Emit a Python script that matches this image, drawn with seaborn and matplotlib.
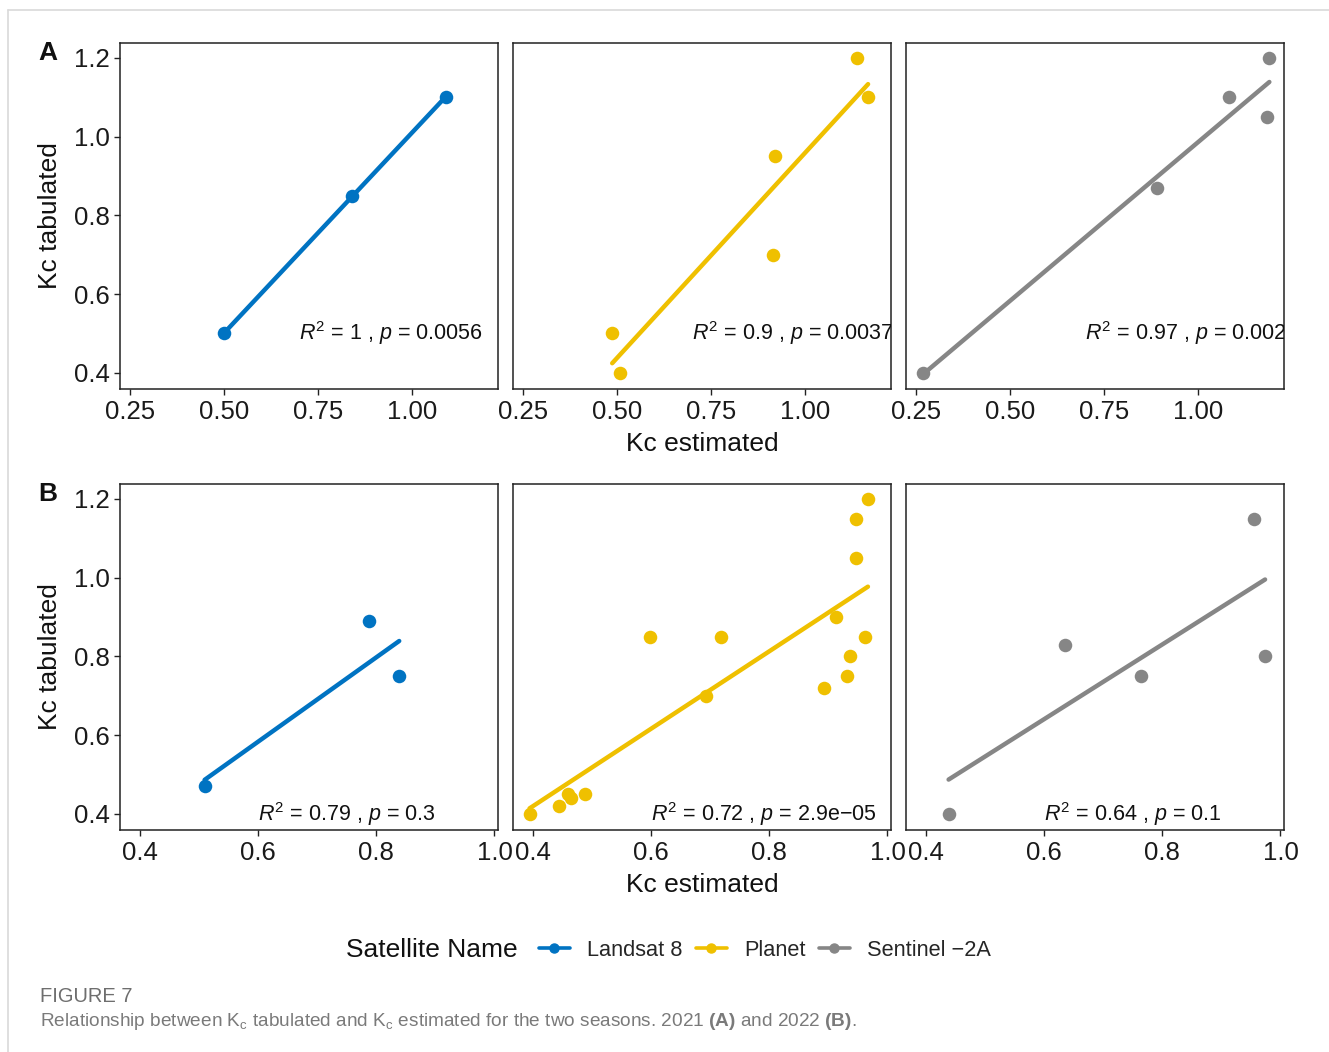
import numpy as np
import pandas as pd
import seaborn as sns
import matplotlib
matplotlib.use("Agg")
import matplotlib.pyplot as plt
from matplotlib.lines import Line2D

# ---------------- data ----------------
satellites = ["Landsat 8", "Planet", "Sentinel \u22122A"]
colors = ["#0073C2", "#EFC000", "#868686"]

# 2021 (A)
landsat_A_est = [0.50, 0.84, 1.09]
landsat_A_tab = [0.50, 0.85, 1.10]
planet_A_est = [0.487, 0.507, 0.914, 0.920, 1.138, 1.168]
planet_A_tab = [0.50, 0.40, 0.70, 0.95, 1.20, 1.10]
sentinel_A_est = [0.268, 0.890, 1.083, 1.185, 1.190]
sentinel_A_tab = [0.40, 0.87, 1.10, 1.05, 1.20]

# 2022 (B)
landsat_B_est = [0.51, 0.788, 0.839]
landsat_B_tab = [0.47, 0.89, 0.75]
planet_B_est = [0.395, 0.444, 0.460, 0.465, 0.489, 0.599, 0.693, 0.718,
                0.892, 0.913, 0.932, 0.937, 0.947, 0.947, 0.962, 0.967]
planet_B_tab = [0.40, 0.42, 0.45, 0.44, 0.45, 0.85, 0.70, 0.85,
                0.72, 0.90, 0.75, 0.80, 1.05, 1.15, 0.85, 1.20]
sentinel_B_est = [0.439, 0.635, 0.765, 0.955, 0.974]
sentinel_B_tab = [0.40, 0.83, 0.75, 1.15, 0.80]

labels_A = ["1", "0.9", "0.97"]
pvals_A = ["0.0056", "0.0037", "0.0024"]
labels_B = ["0.79", "0.72", "0.64"]
pvals_B = ["0.3", "2.9e\u221205", "0.1"]

x_ticks_A = [0.25, 0.50, 0.75, 1.00]
x_ticklabels_A = ["0.25", "0.50", "0.75", "1.00"]
x_ticks_B = [0.4, 0.6, 0.8, 1.0]
x_ticklabels_B = ["0.4", "0.6", "0.8", "1.0"]
y_ticks = [0.4, 0.6, 0.8, 1.0, 1.2]
y_ticklabels = ["0.4", "0.6", "0.8", "1.0", "1.2"]

rows = [
    dict(est=[landsat_A_est, planet_A_est, sentinel_A_est],
         tab=[landsat_A_tab, planet_A_tab, sentinel_A_tab],
         r2=labels_A, p=pvals_A, xt=x_ticks_A, xtl=x_ticklabels_A,
         xlim=(0.223, 1.229), lab_xy=(0.70, 0.50), letter="A"),
    dict(est=[landsat_B_est, planet_B_est, sentinel_B_est],
         tab=[landsat_B_tab, planet_B_tab, sentinel_B_tab],
         r2=labels_B, p=pvals_B, xt=x_ticks_B, xtl=x_ticklabels_B,
         xlim=(0.367, 1.006), lab_xy=(0.60, 0.40), letter="B"),
]

# ---------------- style ----------------
sns.set_theme(style="white")
plt.rcParams["font.family"] = ["Liberation Sans", "DejaVu Sans"]
plt.rcParams["mathtext.fontset"] = "custom"
plt.rcParams["mathtext.rm"] = "Liberation Sans"
plt.rcParams["mathtext.it"] = "Liberation Sans:italic"
plt.rcParams["mathtext.bf"] = "Liberation Sans:bold"

W, H = 1329, 1052
fig = plt.figure(figsize=(W / 100, H / 100), dpi=100)
fig.patch.set_facecolor("white")

col_left = [120, 513, 906]
col_w = 378
row_top = [43, 484]
row_h = 346

for r, row in enumerate(rows):
    for c in range(3):
        ax = fig.add_axes([col_left[c] / W, 1 - (row_top[r] + row_h) / H,
                           col_w / W, row_h / H])
        df = pd.DataFrame({"est": row["est"][c], "tab": row["tab"][c]})
        sns.regplot(data=df, x="est", y="tab", ax=ax, ci=None, truncate=True,
                    color=colors[c],
                    scatter_kws=dict(s=95, alpha=1, linewidths=0, zorder=3),
                    line_kws=dict(lw=3.2, zorder=2))
        ax.set_xlim(*row["xlim"])
        ax.set_ylim(0.359, 1.238)
        ax.set_xticks(row["xt"])
        ax.set_xticklabels(row["xtl"])
        ax.set_yticks(y_ticks)
        ax.set_xlabel("")
        ax.set_ylabel("")
        for sp in ax.spines.values():
            sp.set_color("#222222")
            sp.set_linewidth(1.1)
        ax.tick_params(axis="x", direction="out", length=4.5, width=1.0,
                       color="#222222", pad=3.5, labelsize=18.5, labelcolor="#1a1a1a",
                       bottom=True)
        if c == 0:
            ax.set_yticklabels(y_ticklabels)
            ax.tick_params(axis="y", direction="out", length=4.5, width=1.0,
                           color="#222222", pad=3, labelsize=18.5,
                           labelcolor="#1a1a1a", left=True)
        else:
            ax.set_yticklabels([])
            ax.tick_params(axis="y", left=False, labelleft=False)
        lx, ly = row["lab_xy"]
        ax.text(lx, ly, r"$R^2$ = " + row["r2"][c] + r" , $p$ = " + row["p"][c],
                fontsize=15.5, ha="left", va="center", color="#111111",
                clip_on=True)

    # axis titles
    fig.text(702.5 / W, 1 - (row_top[r] + row_h + 55) / H, "Kc estimated",
             ha="center", va="center", fontsize=19, color="#111111")
    fig.text(50 / W, 1 - (row_top[r] + row_h / 2) / H, "Kc tabulated",
             ha="center", va="center", rotation=90, fontsize=19, color="#111111")
    fig.text(48 / W, 1 - (row_top[r] + 10) / H, row["letter"],
             ha="center", va="center", fontsize=19, fontweight="bold",
             color="#111111")

# legend
fig.text(518 / W, 1 - 950 / H, "Satellite Name", ha="right", va="center",
         fontsize=19, color="#111111")
handles = [Line2D([], [], color=col, marker="o", lw=2.6, markersize=6.5)
           for col in colors]
fig.legend(handles, satellites, loc="center left",
           bbox_to_anchor=(539 / W, 1 - 950 / H), ncol=3, frameon=False,
           fontsize=15.7, handlelength=1.42, handletextpad=0.8,
           columnspacing=0.6, borderaxespad=0, borderpad=0)

# caption
fig.text(40 / W, 1 - 996 / H, "FIGURE 7", ha="left", va="center",
         fontsize=14.5, color="#6e6e6e")
fig.text(40 / W, 1 - 1021 / H,
         r"Relationship between K$_{\mathrm{c}}$ tabulated and K$_{\mathrm{c}}$ "
         r"estimated for the two seasons. 2021 $\mathbf{(A)}$ and 2022 $\mathbf{(B)}$.",
         ha="left", va="center", fontsize=13.7, color="#7a7a7a")

# page frame lines
fig.add_artist(Line2D([8 / W, 1], [1 - 10 / H, 1 - 10 / H], color="#d9d9d9",
                      lw=1.2, transform=fig.transFigure))
fig.add_artist(Line2D([8 / W, 8 / W], [0, 1 - 10 / H], color="#d9d9d9",
                      lw=1.2, transform=fig.transFigure))

fig.savefig("out.png", dpi=100, facecolor="white")
